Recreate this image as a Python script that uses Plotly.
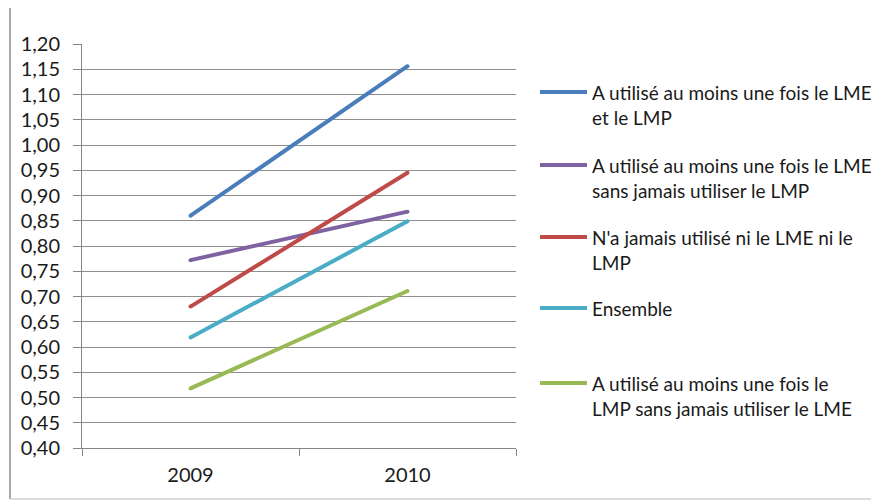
import plotly.graph_objects as go

years = ["2009", "2010"]
series_names = [
    "A utilisé au moins une fois le LME et le LMP",
    "A utilisé au moins une fois le LME sans jamais utiliser le LMP",
    "N'a jamais utilisé ni le LME ni le LMP",
    "Ensemble",
    "A utilisé au moins une fois le LMP sans jamais utiliser le LME",
]
legend_lines = [
    ["A utilisé au moins une fois le LME", "et le LMP"],
    ["A utilisé au moins une fois le LME", "sans jamais utiliser le LMP"],
    ["N'a jamais utilisé ni le LME ni le", "LMP"],
    ["Ensemble"],
    ["A utilisé au moins une fois le", "LMP sans jamais utiliser le LME"],
]
values_lme_lmp = [0.86, 1.156]
values_lme_only = [0.772, 0.868]
values_none = [0.68, 0.945]
values_ensemble = [0.619, 0.849]
values_lmp_only = [0.518, 0.711]
all_values = [values_lme_lmp, values_lme_only, values_none, values_ensemble, values_lmp_only]
colors = ["#4A7EBB", "#7E62A1", "#BE4B48", "#4AACC5", "#98B954"]
y_ticks = [round(0.40 + 0.05 * i, 2) for i in range(17)]

# the page body has an 8px margin; lay out in window pixels and compensate
OX, OY = 8, 8
WIN_W, WIN_H = 879, 500
W, H = WIN_W - OX, WIN_H - OY
L, R, T, B = 82, 516, 44, 448  # plot area in window pixels

def px(x):
    return (x - L) / (R - L)

def py(y):
    return (B - y) / (B - T)

fig = go.Figure()
for name, vals, col in zip(series_names, all_values, colors):
    fig.add_trace(go.Scatter(
        x=years, y=vals, name=name, mode="lines+markers",
        line=dict(color=col, width=4),
        marker=dict(color=col, size=4, line=dict(width=0)),
        showlegend=False, hoverinfo="x+y+name",
    ))

font_family = "Lato, 'Open Sans', sans-serif"
txt_color = "#1a1a1a"

shapes = []
annotations = []
# manual legend
legend_y = [92, 165, 237, 308, 383]
for lines, col, ly in zip(legend_lines, colors, legend_y):
    shapes.append(dict(type="line", xref="paper", yref="paper",
                       x0=px(540), x1=px(587), y0=py(ly), y1=py(ly),
                       line=dict(color=col, width=4)))
    for k, t in enumerate(lines):
        annotations.append(dict(text=t, xref="paper", yref="paper",
                                x=px(590), y=py(ly + 25 * k),
                                xanchor="left", yanchor="middle", showarrow=False,
                                font=dict(size=19, color=txt_color, family=font_family)))

# outer chart border
shapes.append(dict(type="line", xref="paper", yref="paper",
                   x0=px(10), x1=px(10), y0=py(499), y1=py(4.5),
                   line=dict(color="#8a8a8a", width=1.5)))
shapes.append(dict(type="line", xref="paper", yref="paper",
                   x0=px(10), x1=px(890), y0=py(4.5), y1=py(4.5),
                   line=dict(color="#8a8a8a", width=2)))
shapes.append(dict(type="line", xref="paper", yref="paper",
                   x0=px(10), x1=px(890), y0=py(499), y1=py(499),
                   line=dict(color="#d0d0d0", width=1.5)))

fig.update_layout(
    width=W, height=H,
    margin=dict(l=L - OX, r=WIN_W - R, t=T - OY, b=WIN_H - B, pad=0),
    paper_bgcolor="white", plot_bgcolor="white",
    separators=", ",
    font=dict(family=font_family, size=20, color=txt_color),
    shapes=shapes, annotations=annotations,
    xaxis=dict(
        type="category", range=[-0.5, 1.5], tickson="boundaries",
        ticks="outside", ticklen=7, tickcolor="#868686", tickwidth=1,
        showline=True, linecolor="#868686", linewidth=1,
        showgrid=False, zeroline=False, ticklabelstandoff=9,
        tickfont=dict(size=20, color=txt_color),
    ),
    yaxis=dict(
        range=[0.40, 1.20], tickvals=y_ticks, tickformat=".2f",
        ticks="outside", ticklen=8, tickcolor="#868686", tickwidth=1,
        showline=True, linecolor="#868686", linewidth=1,
        showgrid=True, gridcolor="#8f8f8f", gridwidth=1,
        zeroline=False, ticklabelstandoff=9,
        tickfont=dict(size=20, color=txt_color),
    ),
)

fig.write_html("out.html")
